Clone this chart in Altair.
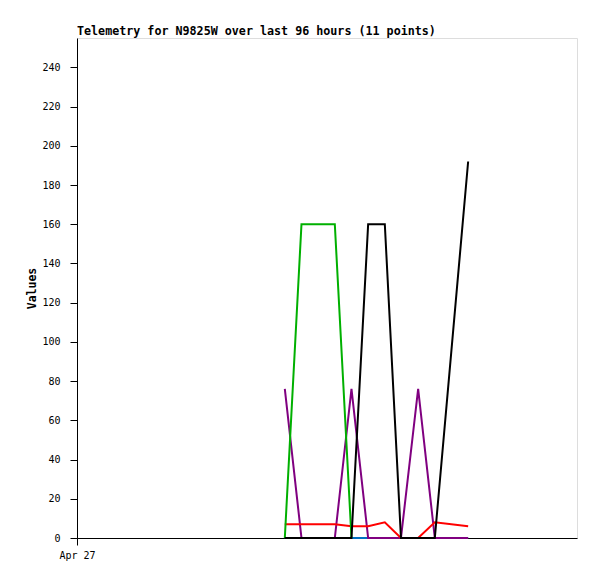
import altair as alt
import pandas as pd

# hours since start of 96-hour window
hours = [39.9, 43.1, 46.3, 49.5, 52.7, 55.9, 59.1, 62.2, 65.5, 68.7, 75.1]
blue_vals = [0, 0, 0, 0, 0, 0, 0, 0, 0, 0, 0]
purple_vals = [76, 0, 0, 0, 76, 0, 0, 0, 76, 0, 0]
red_vals = [7, 7, 7, 7, 6, 6, 8, 0, 0, 8, 6]
green_vals = [0, 160, 160, 160, 0, None, None, None, None, None, None]
black_vals = [0, 0, 0, 0, 0, 160, 160, 0, 0, 0, 192]

series = [
    ("blue", blue_vals, "#0070c0"),
    ("purple", purple_vals, "#800080"),
    ("red", red_vals, "#ff0000"),
    ("green", green_vals, "#00b000"),
    ("black", black_vals, "#000000"),
]

rows = []
for name, vals, _ in series:
    for h, v in zip(hours, vals):
        if v is not None:
            rows.append({"series": name, "hour": h, "value": v})
df = pd.DataFrame(rows)

x_enc = alt.X(
    "hour:Q",
    scale=alt.Scale(domain=[0, 96], nice=False, zero=False),
    axis=alt.Axis(
        values=[0],
        labelExpr="'Apr 27'",
        title=None,
        grid=False,
        tickSize=7,
        tickColor="black",
        domainColor="black",
        labelFont="DejaVu Sans Mono",
        labelFontSize=10,
        labelColor="black",
        labelPadding=5,
        labelFlush=False,
    ),
)
y_enc = alt.Y(
    "value:Q",
    scale=alt.Scale(domain=[0, 255], nice=False),
    axis=alt.Axis(
        values=list(range(0, 241, 20)),
        title="Values",
        titleFont="DejaVu Sans Mono",
        titleFontSize=11.5,
        titleFontWeight="bold",
        titleColor="black",
        titleAngle=-90,
        titleX=-45,
        titleY=250,
        titleAlign="center",
        titleBaseline="middle",
        grid=False,
        tickSize=7,
        tickColor="black",
        domainColor="black",
        labelFont="DejaVu Sans Mono",
        labelFontSize=10,
        labelColor="black",
        labelPadding=10,
    ),
)

layers = []
for name, _, color in series:
    layers.append(
        alt.Chart(df)
        .transform_filter(alt.datum.series == name)
        .mark_line(color=color, strokeWidth=2)
        .encode(x=x_enc, y=y_enc)
    )

chart = (
    alt.layer(*layers)
    .properties(
        width=500,
        height=500,
        title=alt.TitleParams(
            "Telemetry for N9825W over last 96 hours (11 points)",
            anchor="start",
            frame="group",
            font="DejaVu Sans Mono",
            fontSize=11.7,
            fontWeight="bold",
            color="black",
            baseline="bottom",
            offset=5,
            dy=16,
        ),
        autosize=alt.AutoSizeParams(type="none"),
        padding={"left": 69, "top": 30, "right": 12, "bottom": 33},
    )
    .configure_view(stroke="#444444", strokeWidth=1)
    .configure(background="white")
)

chart.save("out.html", embed_options={"renderer": "svg", "actions": False})
